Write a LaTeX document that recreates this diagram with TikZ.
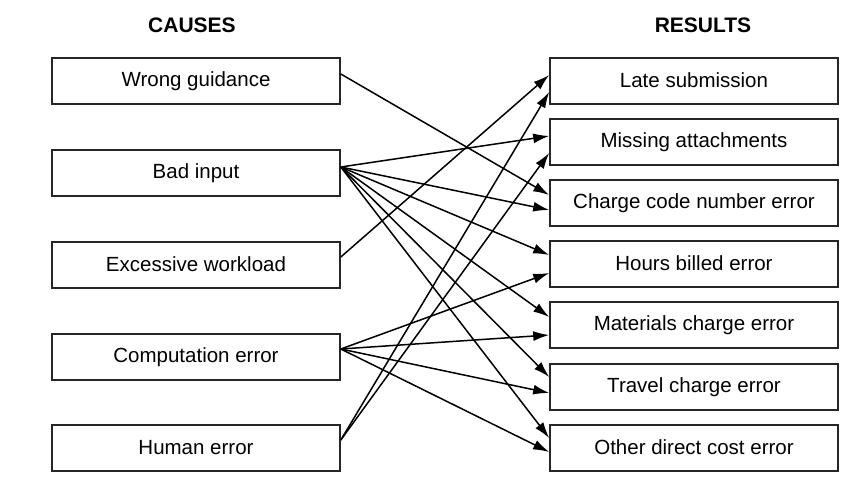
\documentclass[tikz,border=0pt]{standalone}
\usepackage{fontspec}
\setmainfont{Liberation Sans}
\usetikzlibrary{arrows.meta}
\begin{document}
\begin{tikzpicture}[x=1pt,y=-1pt,
  box/.style={draw=black!85,line width=1.6pt,minimum width=288pt,minimum height=46pt,inner sep=0pt,font=\fontsize{20.5}{23}\selectfont},
  head/.style={font=\fontsize{21}{24}\selectfont\bfseries},
  conn/.style={line width=1.5pt,-{Latex[length=16pt,width=10pt]}}]
\useasboundingbox (0,0) rectangle (864,494);
\node[head] (hc) at (192,25) {CAUSES};
\node[head] (hr) at (703,25) {RESULTS};
\node[box] (c1) at (196,81) {\raisebox{2pt}{Wrong guidance}};
\node[box] (c2) at (196,173) {\raisebox{2pt}{Bad input}};
\node[box] (c3) at (196,265) {\raisebox{2pt}{Excessive workload}};
\node[box] (c4) at (196,357) {\raisebox{2pt}{Computation error}};
\node[box] (c5) at (196,448) {\raisebox{2pt}{Human error}};
\node[box] (r1) at (694,81) {\raisebox{2pt}{Late submission}};
\node[box] (r2) at (694,142) {\raisebox{2pt}{Missing attachments}};
\node[box] (r3) at (694,203) {\raisebox{2pt}{Charge code number error}};
\node[box] (r4) at (694,264) {\raisebox{2pt}{Hours billed error}};
\node[box] (r5) at (694,325) {\raisebox{2pt}{Materials charge error}};
\node[box] (r6) at (694,387) {\raisebox{2pt}{Travel charge error}};
\node[box] (r7) at (694,448) {\raisebox{2pt}{Other direct cost error}};
% Wrong guidance
\draw[conn] ([yshift=7pt]c1.east) -- ([yshift=8pt]r3.west);
% Bad input
\draw[conn] ([yshift=6pt]c2.east) -- ([yshift=6pt]r2.west);
\draw[conn] ([yshift=6pt]c2.east) -- ([yshift=-7pt]r3.west);
\draw[conn] ([yshift=6pt]c2.east) -- ([yshift=9pt]r4.west);
\draw[conn] ([yshift=6pt]c2.east) -- ([yshift=8pt]r5.west);
\draw[conn] ([yshift=6pt]c2.east) -- ([yshift=10pt]r6.west);
\draw[conn] ([yshift=6pt]c2.east) -- ([yshift=10pt]r7.west);
% Excessive workload
\draw[conn] ([yshift=8pt]c3.east) -- ([yshift=6pt]r1.west);
% Computation error
\draw[conn] ([yshift=8pt]c4.east) -- ([yshift=-9pt]r4.west);
\draw[conn] ([yshift=8pt]c4.east) -- ([yshift=-10pt]r5.west);
\draw[conn] ([yshift=8pt]c4.east) -- ([yshift=-6pt]r6.west);
\draw[conn] ([yshift=8pt]c4.east) -- ([yshift=-4pt]r7.west);
% Human error
\draw[conn] ([yshift=8pt]c5.east) -- ([yshift=-11pt]r1.west);
\draw[conn] ([yshift=8pt]c5.east) -- ([yshift=-11pt]r2.west);
\end{tikzpicture}
\end{document}
